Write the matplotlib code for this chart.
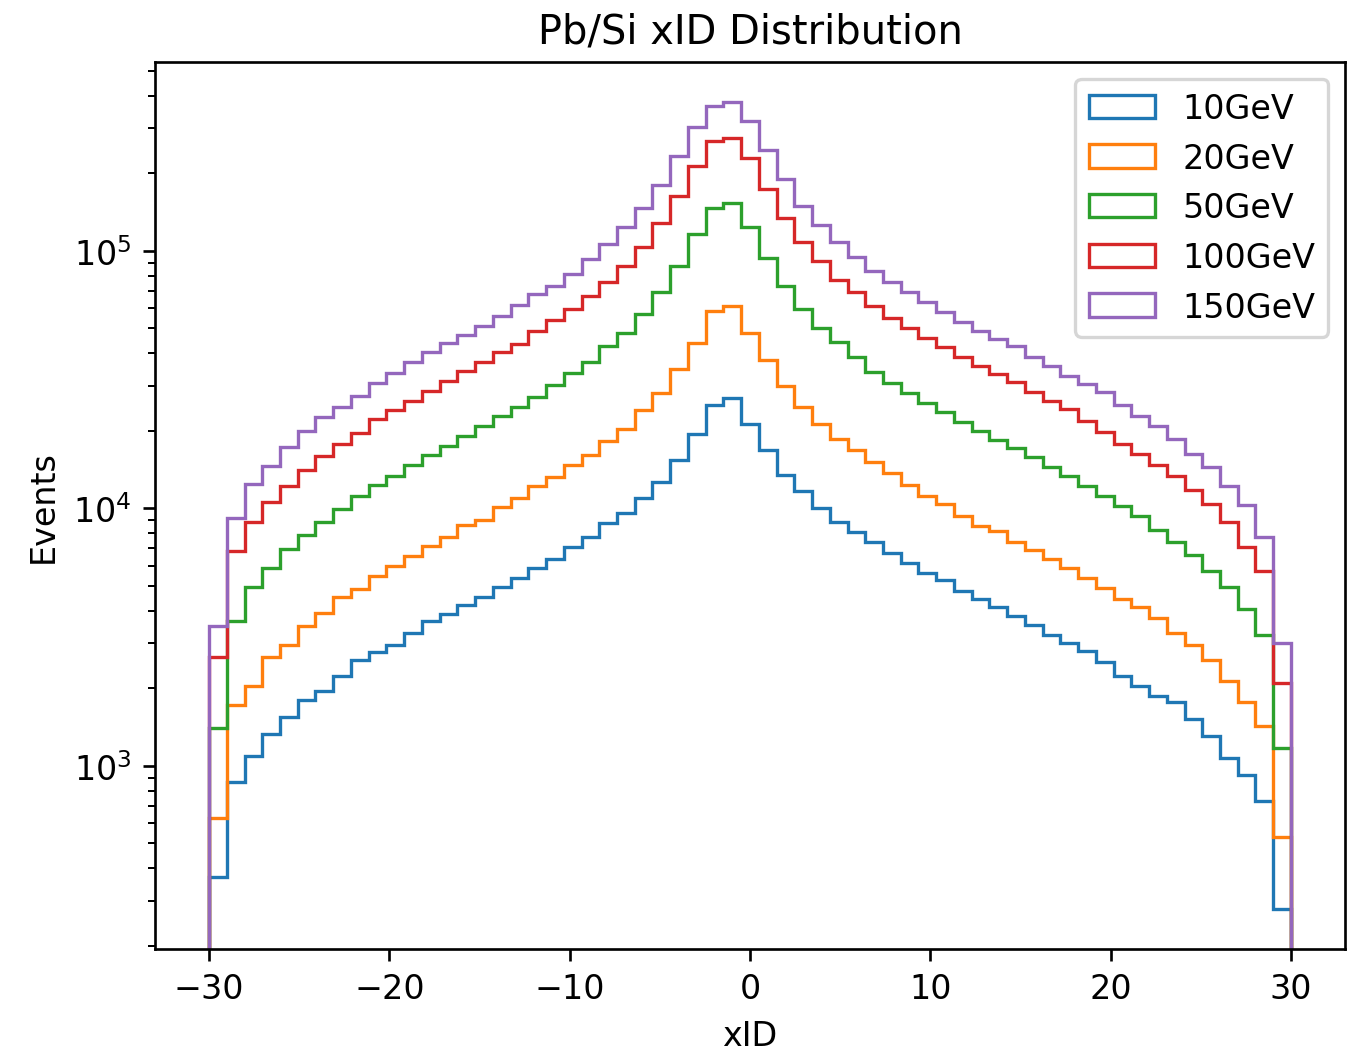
import numpy as np
import matplotlib
matplotlib.use("Agg")
import matplotlib.pyplot as plt

# xID values (integer strips) and event counts per energy
xid = np.arange(-30, 31)

e10 = [370, 869, 1096, 1331, 1553, 1808, 1959, 2228, 2586, 2766,
       2958, 3285, 3648, 3890, 4229, 4520, 4943, 5355, 5857, 6368,
       7110, 7770, 8790, 9610, 10960, 12650, 15490, 19470, 25230, 26790,
       21290, 16870, 13520, 11660, 10040, 8840, 8080, 7430, 6700, 6120,
       5620, 5280, 4770, 4450, 4140, 3810, 3540, 3230, 3005, 2805,
       2540, 2230, 2040, 1866, 1767, 1523, 1304, 1074, 925, 729,
       279]
e20 = [627, 1726, 2050, 2657, 2958, 3508, 3918, 4543, 4866, 5479,
       5994, 6556, 7131, 7727, 8630, 9060, 10110, 10990, 12190, 13290,
       14750, 16130, 18340, 20400, 24200, 28180, 34800, 43950, 58400, 61000,
       47900, 37840, 29970, 24720, 21190, 18620, 16880, 15110, 13700, 12350,
       11190, 10440, 9380, 8580, 8200, 7430, 6920, 6368, 5857, 5355,
       4900, 4450, 4160, 3750, 3285, 2950, 2580, 2145, 1767, 1426,
       528]
e50 = [1400, 3664, 4943, 5857, 6960, 7890, 8840, 9910, 11190, 12330,
       13410, 14750, 16130, 17540, 19180, 20980, 22880, 24720, 27040, 30200,
       33600, 37000, 42660, 48050, 56900, 69150, 87700, 116400, 146500, 153600,
       123600, 93700, 73300, 59550, 50100, 44200, 38650, 33960, 30800, 28100,
       25770, 23640, 21630, 20000, 18490, 17220, 15810, 14520, 13340, 12190,
       11140, 10250, 9380, 8270, 7430, 6590, 5730, 4943, 4070, 3230,
       1172]
e100 = [2642, 6855, 8840, 10620, 12220, 14150, 16030, 17780, 19650, 22280,
        24150, 26250, 28670, 31340, 34090, 37150, 40510, 43550, 48980, 53930,
        59550, 66670, 75540, 87700, 104000, 128500, 164100, 214300, 267900, 274200,
        229700, 174200, 134000, 108600, 91600, 77450, 69150, 61000, 54800, 50100,
        45810, 42270, 38900, 35890, 33270, 30900, 28250, 26250, 24320, 21930,
        19770, 17780, 16290, 14750, 13410, 11800, 10400, 8840, 7060, 5730,
        2100]
e150 = [3508, 9160, 12500, 14590, 17300, 20040, 22590, 24720, 27420, 30690,
        33600, 37000, 40450, 43850, 47200, 51290, 56100, 61660, 68100, 73300,
        81430, 93100, 106400, 123600, 146500, 180300, 234400, 302000, 366400, 377600,
        319200, 246600, 190500, 150000, 126500, 108600, 94600, 83800, 75540, 69150,
        63200, 58070, 53090, 48980, 45500, 42660, 38650, 35650, 32810, 30410,
        28250, 25290, 22910, 20980, 18620, 16290, 14450, 12270, 10330, 7727,
        3005]

labels = ['10GeV', '20GeV', '50GeV', '100GeV', '150GeV']
series = [e10, e20, e50, e100, e150]

fig = plt.figure(figsize=(5.625, 4.379), dpi=240)
ax = fig.add_subplot(111)
plt.subplots_adjust(left=0.1148, right=0.9963, top=0.940, bottom=0.0961)

for counts, lab in zip(series, labels):
    ax.hist(xid, bins=61, range=(-30, 30), weights=counts,
            histtype='step', label=lab)

ax.set_yscale('log')
ax.set_xlabel('xID')
ax.set_ylabel('Events')
ax.set_title('Pb/Si xID Distribution')
ax.legend(loc='upper right')

fig.savefig('out.png', dpi=240)
